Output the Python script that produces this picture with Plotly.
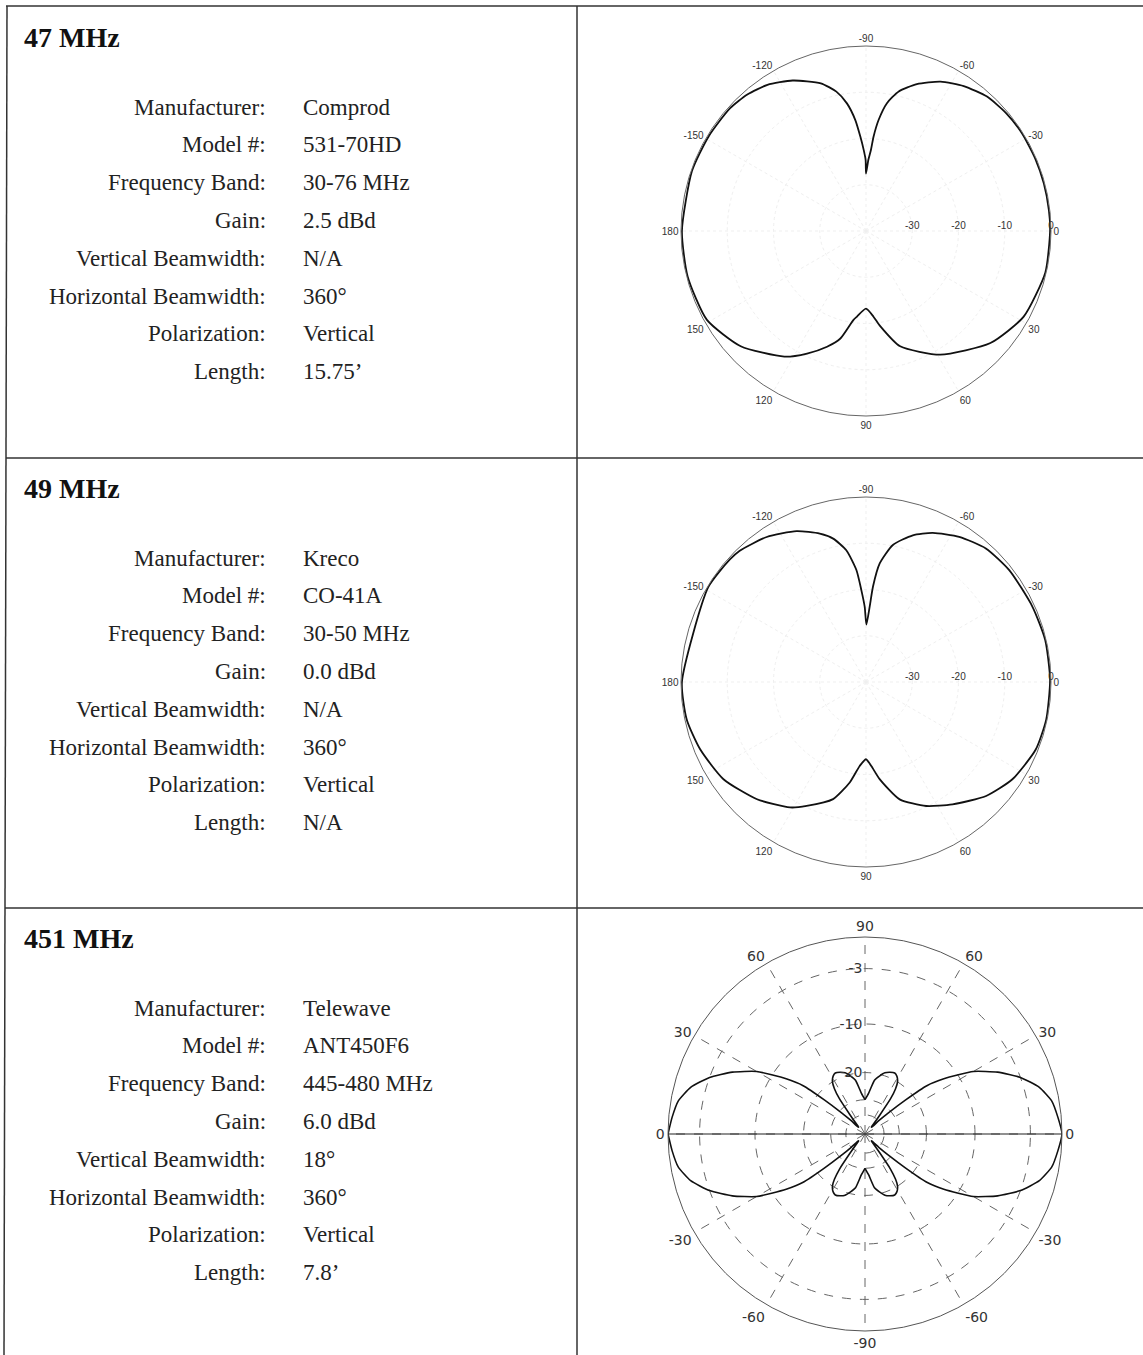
import plotly.graph_objects as go

W, H = 1143, 1355

# ---------------- text data ----------------
titles = ["47 MHz", "49 MHz", "451 MHz"]
field_labels = ["Manufacturer:", "Model #:", "Frequency Band:", "Gain:",
                "Vertical Beamwidth:", "Horizontal Beamwidth:", "Polarization:", "Length:"]
values_47 = ["Comprod", "531-70HD", "30-76 MHz", "2.5 dBd", "N/A", "360°", "Vertical", "15.75’"]
values_49 = ["Kreco", "CO-41A", "30-50 MHz", "0.0 dBd", "N/A", "360°", "Vertical", "N/A"]
values_451 = ["Telewave", "ANT450F6", "445-480 MHz", "6.0 dBd", "18°", "360°", "Vertical", "7.8’"]

# ---------------- pattern data (dB) ----------------
theta_47 = [-180, -161, -149, -138, -131, -124, -116, -107, -102, -98.5, -95.5, -93.4, -91.6, -90.3,
            -90, -88.1, -86.5, -85.4, -83.5, -80.7, -76.8, -70.9, -63.5, -56, -48, -40, -32, -23,
            -15, -6.5, 0, 13, 28.5, 42, 59, 73.5, 81.5, 85, 90, 96, 98, 103.4, 108.6, 115.7, 123,
            137.4, 150.8, 165.7, 180]
gain_47 = [-0.2, -0.2, -0.3, -0.4, -0.9, -1.9, -3.8, -6.6, -9.2, -12.1, -15.9, -19.6, -22.5, -24.6,
           -27.6, -24.6, -22.4, -19.5, -15.8, -12.0, -9.0, -6.4, -3.9, -2.2, -0.9, -0.4, -0.2, -0.2,
           -0.2, -0.2, -0.2, -0.2, -1.2, -3.8, -8.8, -14.0, -19.2, -21.4, -23.2, -21.4, -20.6, -16.1,
           -13.6, -10.6, -7.6, -3.2, -0.6, -0.2, -0.2]

theta_49 = [-180, -149, -138, -134, -124.4, -114.7, -107.3, -102.9, -98.5, -94.9, -92.9, -91, -89.6,
            -87.2, -85.8, -83.4, -78.9, -72.3, -65.9, -57.3, -48.1, -38, -24.4, -13.2, -0.7, 11.7,
            21.7, 33.6, 43.5, 54.7, 64.1, 74, 82, 86.4, 90, 94.3, 99.2, 105.7, 115.6, 121.2, 132.9,
            145.7, 157.9, 168.2, 180]
gain_49 = [-0.2, -0.2, -0.4, -0.6, -2.0, -4.1, -6.4, -8.2, -11.2, -15.7, -20.1, -23.7, -27.6,
           -23.7, -19.3, -14.2, -9.8, -6.7, -4.7, -2.7, -1.2, -0.7, -0.5, -0.2, -0.2, -0.2,
           -0.5, -2.0, -4.2, -7.6, -10.2, -13.6, -18.8, -21.8, -23.3, -21.8, -18.0, -13.7, -10.3,
           -8.3, -5.4, -2.7, -1.3, -0.4, -0.2]

# 451 MHz elevation pattern, one quadrant (symmetric pattern)
elev_451 = [0, 5, 10, 15, 20, 25, 30, 35, 38, 40, 42, 44, 46, 48, 50, 52, 54, 56, 58, 61, 64,
            68, 72, 76, 80, 85, 90]
gain_451 = [0, -0.3, -0.65, -1.5, -3.0, -5.1, -7.8, -12.3, -15.8, -22.5, -31, -40, -52, -52,
            -45, -36, -26, -22, -20, -18.8, -18.3, -18.6, -19.2, -20.5, -22, -27, -30]

# tick labels
ang_ticks_az = [0, 30, 60, 90, 120, 150, 180, 210, 240, 270, 300, 330]
ang_text_az = ["0", "30", "60", "90", "120", "150", "180", "-150", "-120", "-90", "-60", "-30"]
ang_text_el = ["0", "30", "60", "90", "60", "30", "0", "-30", "-60", "-90", "-60", "-30"]
rad_ticks_lin = [-30, -20, -10, 0]
rad_ticks_arrl = [-3, -10, -20, -30, -40]
rad_text_arrl = ["-3", "-10", "-20", "", ""]


def arrl(db):
    """ARRL log-periodic radial scale: 0.89 per 2 dB."""
    return 0.89 ** (-db / 2.0)


# build full elevation pattern from quadrant by symmetry
th3, r3 = [], []
for t, g in zip(elev_451, gain_451):
    th3.append(t); r3.append(arrl(g))
for t, g in zip(reversed(elev_451), reversed(gain_451)):
    th3.append(180 - t); r3.append(arrl(g))
for t, g in zip(elev_451, gain_451):
    th3.append(180 + t); r3.append(arrl(g))
for t, g in zip(reversed(elev_451), reversed(gain_451)):
    th3.append(360 - t); r3.append(arrl(g))

fig = go.Figure()

# invisible pixel-space cartesian axes for the table
fig.add_trace(go.Scatter(x=[0, W], y=[0, H], mode="markers", marker=dict(opacity=0),
                         hoverinfo="skip", showlegend=False))

fig.add_trace(go.Scatterpolar(r=gain_47, theta=theta_47, mode="lines", subplot="polar",
                              line=dict(color="#111", width=1.8, shape="spline", smoothing=0.6),
                              showlegend=False))
fig.add_trace(go.Scatterpolar(r=gain_49, theta=theta_49, mode="lines", subplot="polar2",
                              line=dict(color="#111", width=1.8, shape="spline", smoothing=0.6),
                              showlegend=False))
# horizontal reference line of elevation chart
fig.add_trace(go.Scatterpolar(r=[1, 0, 1], theta=[0, 0, 180], mode="lines", subplot="polar3",
                              line=dict(color="#222", width=1.2), showlegend=False, hoverinfo="skip"))
fig.add_trace(go.Scatterpolar(r=r3, theta=th3, mode="lines", subplot="polar3",
                              line=dict(color="#111", width=1.6, shape="spline", smoothing=0.5),
                              showlegend=False))


def dom(cx, cy, R):
    return dict(x=[(cx - R) / W, (cx + R) / W], y=[1 - (cy + R) / H, 1 - (cy - R) / H])


az_font = dict(family="Liberation Sans", size=10, color="#333")


def az_polar(cx, cy, R):
    return dict(
        domain=dom(cx, cy, R),
        bgcolor="rgba(0,0,0,0)",
        angularaxis=dict(direction="clockwise", rotation=0, tickmode="array",
                         tickvals=ang_ticks_az, ticktext=ang_text_az, ticks="",
                         showline=True, linecolor="#666", linewidth=1,
                         showgrid=True, gridcolor="#efefef", griddash="dot", gridwidth=1,
                         tickfont=az_font),
        radialaxis=dict(range=[-40, 0], tickmode="array", tickvals=rad_ticks_lin,
                        ticktext=[str(v) for v in rad_ticks_lin], angle=0, ticks="",
                        side="counterclockwise",
                        showline=False, showgrid=True, gridcolor="#efefef", griddash="dot",
                        tickfont=dict(family="Liberation Sans", size=10, color="#333")),
    )


layout_polars = dict(
    polar=az_polar(866, 231, 185),
    polar2=az_polar(866, 682, 185),
    polar3=dict(
        domain=dom(865, 1134, 197),
        bgcolor="rgba(0,0,0,0)",
        angularaxis=dict(direction="counterclockwise", rotation=0, tickmode="array",
                         tickvals=ang_ticks_az, ticktext=ang_text_el, ticks="",
                         showline=True, linecolor="#555", linewidth=1,
                         showgrid=True, gridcolor="#666", griddash="dash", gridwidth=1,
                         tickfont=dict(family="DejaVu Sans", size=14, color="#333")),
        radialaxis=dict(range=[0, 1], tickmode="array",
                        tickvals=[arrl(v) for v in rad_ticks_arrl], ticktext=rad_text_arrl,
                        angle=90, tickangle=90, side="counterclockwise", ticks="", showline=False,
                        showgrid=True, gridcolor="#666", griddash="dash", gridwidth=1,
                        tickfont=dict(family="DejaVu Sans", size=14, color="#333")),
    ),
)

# ---------------- table lines ----------------
line_style = dict(color="#333", width=1.5)
shapes = [
    dict(type="line", xref="x", yref="y", x0=6, x1=W, y0=6, y1=6, line=line_style),
    dict(type="line", xref="x", yref="y", x0=7, x1=4, y0=6, y1=H, line=line_style),
    dict(type="line", xref="x", yref="y", x0=577, x1=577, y0=6, y1=H, line=line_style),
    dict(type="line", xref="x", yref="y", x0=6, x1=W, y0=458, y1=458, line=line_style),
    dict(type="line", xref="x", yref="y", x0=5, x1=W, y0=908, y1=908, line=line_style),
]

# ---------------- text ----------------
annotations = []
title_y = [37, 488, 938]
field_y0 = [107, 558, 1008]
step = 37.8
label_x, value_x = 268, 301
serif = "Liberation Serif"
for title, ty, fy, vals in zip(titles, title_y, field_y0, [values_47, values_49, values_451]):
    annotations.append(dict(x=22, y=ty, xref="x", yref="y", text="<b>%s</b>" % title,
                            showarrow=False, xanchor="left", yanchor="middle",
                            font=dict(family=serif, size=28, color="#111")))
    for i, (lab, val) in enumerate(zip(field_labels, vals)):
        yy = fy + i * step
        annotations.append(dict(x=label_x, y=yy, xref="x", yref="y", text=lab, showarrow=False,
                                xanchor="right", yanchor="middle",
                                font=dict(family=serif, size=23, color="#222")))
        annotations.append(dict(x=value_x, y=yy, xref="x", yref="y", text=val, showarrow=False,
                                xanchor="left", yanchor="middle",
                                font=dict(family=serif, size=23, color="#222")))

fig.update_layout(
    width=W, height=H, margin=dict(l=0, r=0, t=0, b=0),
    paper_bgcolor="white", plot_bgcolor="white", showlegend=False,
    xaxis=dict(range=[0, W], domain=[0, 1], visible=False, fixedrange=True),
    yaxis=dict(range=[H, 0], domain=[0, 1], visible=False, fixedrange=True),
    shapes=shapes, annotations=annotations,
    **layout_polars,
)

fig.write_html("out.html", config={"displayModeBar": False},
               post_script="document.body.style.margin='0';")
